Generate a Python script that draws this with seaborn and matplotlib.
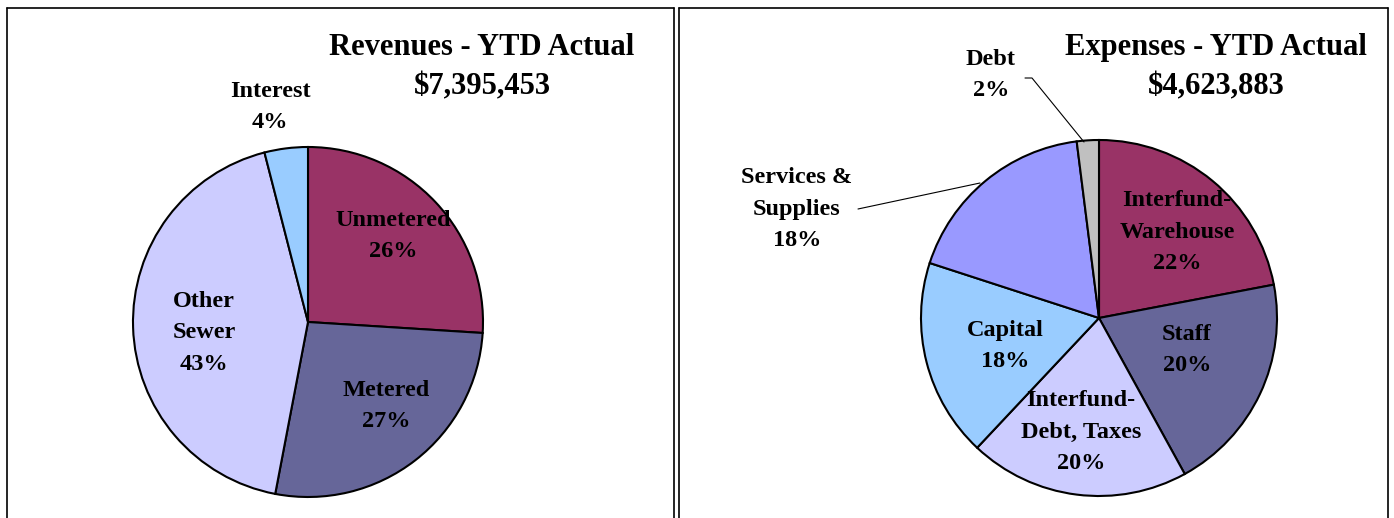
import matplotlib
matplotlib.use("Agg")
import matplotlib.pyplot as plt
import seaborn as sns
from matplotlib.lines import Line2D

sns.set_theme(style="white")
plt.rcParams['font.family'] = ['Liberation Serif', 'DejaVu Serif']
plt.rcParams['text.color'] = 'black'

# ---- data ----
rev_labels = ["Unmetered", "Metered", "Other\nSewer", "Interest"]
rev_values = [26, 27, 43, 4]
rev_colors = ["#993366", "#666699", "#CCCCFF", "#99CCFF"]
rev_title = "Revenues - YTD Actual\n$7,395,453"

exp_labels = ["Interfund-\nWarehouse", "Staff", "Interfund-\nDebt, Taxes", "Capital",
              "Services &\nSupplies", "Debt"]
exp_values = [22, 20, 20, 18, 18, 2]
exp_colors = ["#993366", "#666699", "#CCCCFF", "#99CCFF", "#9999FF", "#C0C0C0"]
exp_title = "Expenses - YTD Actual\n$4,623,883"

W, H = 1394, 518
fig = plt.figure(figsize=(W / 100, H / 100), dpi=100)
fig.patch.set_facecolor("white")
ax = fig.add_axes([0, 0, 1, 1])

def Y(y):
    return H - y

lbl_kw = dict(fontsize=17.5, fontweight="bold", ha="center", va="center",
              linespacing=1.65, color="black")
title_kw = dict(fontsize=22, fontweight="bold", ha="center", va="center",
                linespacing=1.45, color="black")

# ---- revenues pie ----
ax.pie(rev_values, colors=rev_colors, startangle=90, counterclock=False,
       center=(308, Y(322)), radius=175, frame=True,
       wedgeprops=dict(edgecolor="black", linewidth=1.5))
rev_pos = [(393, 236), (386, 406), (204, 333), (270, 107)]
for lab, v, (x, y) in zip(rev_labels, rev_values, rev_pos):
    ax.text(x, Y(y), f"{lab}\n{v}%", **lbl_kw)
ax.text(482, Y(67), rev_title, **title_kw)

# ---- expenses pie ----
ax.pie(exp_values, colors=exp_colors, startangle=90, counterclock=False,
       center=(1099, Y(318)), radius=178, frame=True,
       wedgeprops=dict(edgecolor="black", linewidth=1.5))
exp_pos = [(1177, 232), (1187, 350), (1081, 432), (1005, 346), (797, 209), (991, 75)]
for lab, v, (x, y) in zip(exp_labels, exp_values, exp_pos):
    ax.text(x, Y(y), f"{lab}\n{v}%", **lbl_kw)
ax.text(1216, Y(67), exp_title, **title_kw)

# leader lines
ax.plot([858, 980], [Y(209), Y(183)], color="black", lw=0.8)
ax.plot([1025, 1032, 1084], [Y(78), Y(78), Y(142)], color="black", lw=0.8)

ax.set_xlim(0, W)
ax.set_ylim(0, H)
ax.set_aspect("equal")
ax.axis("off")

# ---- panel borders ----
def box(x0, x1, y0=8):
    for xs, ys in [([x0, x1], [y0, y0]), ([x0, x0], [y0, H + 5]), ([x1, x1], [y0, H + 5])]:
        fig.add_artist(Line2D([x / W for x in xs], [1 - y / H for y in ys],
                              color="black", lw=1.2))

box(7, 674)
box(679, 1388)

fig.savefig("out.png", dpi=100)
